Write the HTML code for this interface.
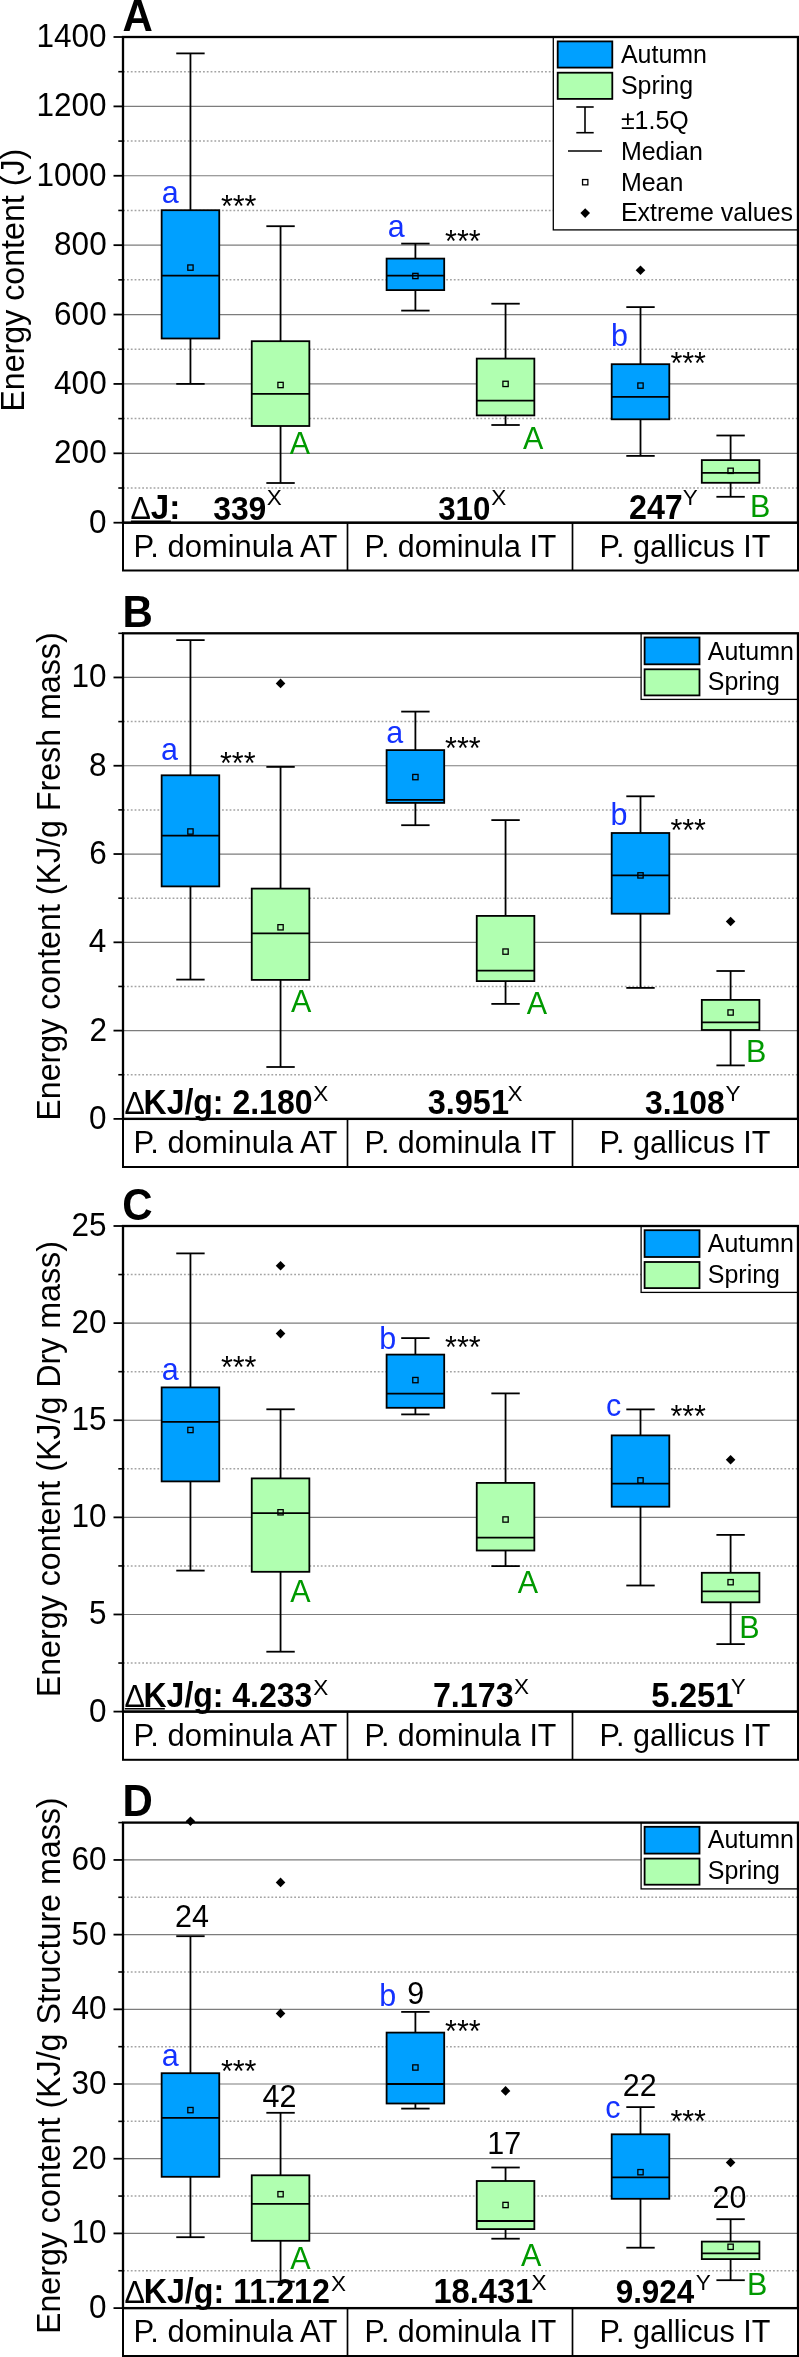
<!DOCTYPE html>
<html><head><meta charset="utf-8"><style>
html,body{margin:0;padding:0;background:#fff;}
svg{display:block;will-change:transform;font-family:"Liberation Sans",sans-serif;}
</style></head><body>
<svg width="799" height="2357" viewBox="0 0 799 2357">
<rect width="799" height="2357" fill="#fff"/>
<line x1="124.00" y1="488.01" x2="797.00" y2="488.01" stroke="#a4a4a4" stroke-width="1.5" stroke-dasharray="1.8 2" stroke-dashoffset="0.8"/>
<line x1="124.00" y1="453.31" x2="797.00" y2="453.31" stroke="#7c7c7c" stroke-width="1.2"/>
<line x1="124.00" y1="418.62" x2="797.00" y2="418.62" stroke="#a4a4a4" stroke-width="1.5" stroke-dasharray="1.8 2" stroke-dashoffset="0.8"/>
<line x1="124.00" y1="383.93" x2="797.00" y2="383.93" stroke="#7c7c7c" stroke-width="1.2"/>
<line x1="124.00" y1="349.24" x2="797.00" y2="349.24" stroke="#a4a4a4" stroke-width="1.5" stroke-dasharray="1.8 2" stroke-dashoffset="0.8"/>
<line x1="124.00" y1="314.54" x2="797.00" y2="314.54" stroke="#7c7c7c" stroke-width="1.2"/>
<line x1="124.00" y1="279.85" x2="797.00" y2="279.85" stroke="#a4a4a4" stroke-width="1.5" stroke-dasharray="1.8 2" stroke-dashoffset="0.8"/>
<line x1="124.00" y1="245.16" x2="797.00" y2="245.16" stroke="#7c7c7c" stroke-width="1.2"/>
<line x1="124.00" y1="210.46" x2="797.00" y2="210.46" stroke="#a4a4a4" stroke-width="1.5" stroke-dasharray="1.8 2" stroke-dashoffset="0.8"/>
<line x1="124.00" y1="175.77" x2="797.00" y2="175.77" stroke="#7c7c7c" stroke-width="1.2"/>
<line x1="124.00" y1="141.08" x2="797.00" y2="141.08" stroke="#a4a4a4" stroke-width="1.5" stroke-dasharray="1.8 2" stroke-dashoffset="0.8"/>
<line x1="124.00" y1="106.39" x2="797.00" y2="106.39" stroke="#7c7c7c" stroke-width="1.2"/>
<line x1="124.00" y1="71.69" x2="797.00" y2="71.69" stroke="#a4a4a4" stroke-width="1.5" stroke-dasharray="1.8 2" stroke-dashoffset="0.8"/>
<line x1="190.45" y1="53.40" x2="190.45" y2="210.20" stroke="#000" stroke-width="1.8"/>
<line x1="190.45" y1="338.50" x2="190.45" y2="383.90" stroke="#000" stroke-width="1.8"/>
<line x1="176.25" y1="53.40" x2="204.65" y2="53.40" stroke="#000" stroke-width="1.8"/>
<line x1="176.25" y1="383.90" x2="204.65" y2="383.90" stroke="#000" stroke-width="1.8"/>
<rect x="161.65" y="210.20" width="57.60" height="128.30" fill="#00a0ff" stroke="#000" stroke-width="1.8"/>
<line x1="161.65" y1="275.70" x2="219.25" y2="275.70" stroke="#000" stroke-width="1.8"/>
<rect x="187.80" y="264.95" width="5.3" height="5.3" fill="none" stroke="#000" stroke-width="1.3"/>
<line x1="280.55" y1="226.20" x2="280.55" y2="341.20" stroke="#000" stroke-width="1.8"/>
<line x1="280.55" y1="426.00" x2="280.55" y2="483.00" stroke="#000" stroke-width="1.8"/>
<line x1="266.35" y1="226.20" x2="294.75" y2="226.20" stroke="#000" stroke-width="1.8"/>
<line x1="266.35" y1="483.00" x2="294.75" y2="483.00" stroke="#000" stroke-width="1.8"/>
<rect x="251.75" y="341.20" width="57.60" height="84.80" fill="#b0ffb0" stroke="#000" stroke-width="1.8"/>
<line x1="251.75" y1="393.80" x2="309.35" y2="393.80" stroke="#000" stroke-width="1.8"/>
<rect x="277.90" y="382.35" width="5.3" height="5.3" fill="none" stroke="#000" stroke-width="1.3"/>
<line x1="415.40" y1="243.60" x2="415.40" y2="258.60" stroke="#000" stroke-width="1.8"/>
<line x1="415.40" y1="290.10" x2="415.40" y2="310.60" stroke="#000" stroke-width="1.8"/>
<line x1="401.20" y1="243.60" x2="429.60" y2="243.60" stroke="#000" stroke-width="1.8"/>
<line x1="401.20" y1="310.60" x2="429.60" y2="310.60" stroke="#000" stroke-width="1.8"/>
<rect x="386.60" y="258.60" width="57.60" height="31.50" fill="#00a0ff" stroke="#000" stroke-width="1.8"/>
<line x1="386.60" y1="275.70" x2="444.20" y2="275.70" stroke="#000" stroke-width="1.8"/>
<rect x="412.75" y="273.35" width="5.3" height="5.3" fill="none" stroke="#000" stroke-width="1.3"/>
<line x1="505.55" y1="303.70" x2="505.55" y2="358.60" stroke="#000" stroke-width="1.8"/>
<line x1="505.55" y1="415.40" x2="505.55" y2="425.00" stroke="#000" stroke-width="1.8"/>
<line x1="491.35" y1="303.70" x2="519.75" y2="303.70" stroke="#000" stroke-width="1.8"/>
<line x1="491.35" y1="425.00" x2="519.75" y2="425.00" stroke="#000" stroke-width="1.8"/>
<rect x="476.75" y="358.60" width="57.60" height="56.80" fill="#b0ffb0" stroke="#000" stroke-width="1.8"/>
<line x1="476.75" y1="400.70" x2="534.35" y2="400.70" stroke="#000" stroke-width="1.8"/>
<rect x="502.90" y="381.25" width="5.3" height="5.3" fill="none" stroke="#000" stroke-width="1.3"/>
<line x1="640.50" y1="307.10" x2="640.50" y2="364.20" stroke="#000" stroke-width="1.8"/>
<line x1="640.50" y1="419.30" x2="640.50" y2="455.90" stroke="#000" stroke-width="1.8"/>
<line x1="626.30" y1="307.10" x2="654.70" y2="307.10" stroke="#000" stroke-width="1.8"/>
<line x1="626.30" y1="455.90" x2="654.70" y2="455.90" stroke="#000" stroke-width="1.8"/>
<rect x="611.70" y="364.20" width="57.60" height="55.10" fill="#00a0ff" stroke="#000" stroke-width="1.8"/>
<line x1="611.70" y1="396.90" x2="669.30" y2="396.90" stroke="#000" stroke-width="1.8"/>
<rect x="637.85" y="382.95" width="5.3" height="5.3" fill="none" stroke="#000" stroke-width="1.3"/>
<path d="M640.50 265.40L645.30 270.20L640.50 275.00L635.70 270.20Z"/>
<line x1="730.60" y1="435.50" x2="730.60" y2="460.10" stroke="#000" stroke-width="1.8"/>
<line x1="730.60" y1="482.80" x2="730.60" y2="496.80" stroke="#000" stroke-width="1.8"/>
<line x1="716.40" y1="435.50" x2="744.80" y2="435.50" stroke="#000" stroke-width="1.8"/>
<line x1="716.40" y1="496.80" x2="744.80" y2="496.80" stroke="#000" stroke-width="1.8"/>
<rect x="701.80" y="460.10" width="57.60" height="22.70" fill="#b0ffb0" stroke="#000" stroke-width="1.8"/>
<line x1="701.80" y1="472.80" x2="759.40" y2="472.80" stroke="#000" stroke-width="1.8"/>
<rect x="727.95" y="468.15" width="5.3" height="5.3" fill="none" stroke="#000" stroke-width="1.3"/>
<line x1="113.50" y1="522.70" x2="123.00" y2="522.70" stroke="#000" stroke-width="1.8"/>
<text transform="translate(89.08,532.70) scale(1,1.03)" font-size="31.5">0</text>
<line x1="118.30" y1="488.01" x2="123.00" y2="488.01" stroke="#000" stroke-width="1.6"/>
<line x1="113.50" y1="453.31" x2="123.00" y2="453.31" stroke="#000" stroke-width="1.8"/>
<text transform="translate(54.11,463.31) scale(1,1.03)" font-size="31.5">200</text>
<line x1="118.30" y1="418.62" x2="123.00" y2="418.62" stroke="#000" stroke-width="1.6"/>
<line x1="113.50" y1="383.93" x2="123.00" y2="383.93" stroke="#000" stroke-width="1.8"/>
<text transform="translate(54.11,393.93) scale(1,1.03)" font-size="31.5">400</text>
<line x1="118.30" y1="349.24" x2="123.00" y2="349.24" stroke="#000" stroke-width="1.6"/>
<line x1="113.50" y1="314.54" x2="123.00" y2="314.54" stroke="#000" stroke-width="1.8"/>
<text transform="translate(54.11,324.54) scale(1,1.03)" font-size="31.5">600</text>
<line x1="118.30" y1="279.85" x2="123.00" y2="279.85" stroke="#000" stroke-width="1.6"/>
<line x1="113.50" y1="245.16" x2="123.00" y2="245.16" stroke="#000" stroke-width="1.8"/>
<text transform="translate(54.11,255.16) scale(1,1.03)" font-size="31.5">800</text>
<line x1="118.30" y1="210.46" x2="123.00" y2="210.46" stroke="#000" stroke-width="1.6"/>
<line x1="113.50" y1="175.77" x2="123.00" y2="175.77" stroke="#000" stroke-width="1.8"/>
<text transform="translate(36.47,185.77) scale(1,1.03)" font-size="31.5">1000</text>
<line x1="118.30" y1="141.08" x2="123.00" y2="141.08" stroke="#000" stroke-width="1.6"/>
<line x1="113.50" y1="106.39" x2="123.00" y2="106.39" stroke="#000" stroke-width="1.8"/>
<text transform="translate(36.47,116.39) scale(1,1.03)" font-size="31.5">1200</text>
<line x1="118.30" y1="71.69" x2="123.00" y2="71.69" stroke="#000" stroke-width="1.6"/>
<line x1="113.50" y1="37.00" x2="123.00" y2="37.00" stroke="#000" stroke-width="1.8"/>
<text transform="translate(36.47,47.00) scale(1,1.03)" font-size="31.5">1400</text>
<rect x="553.3" y="37.0" width="244.70000000000005" height="192.9" fill="#fff" stroke="#000" stroke-width="1.3"/>
<rect x="557.7" y="41.4" width="54.6" height="26.2" fill="#00a0ff" stroke="#000" stroke-width="1.8"/>
<rect x="557.7" y="72.7" width="54.6" height="26.2" fill="#b0ffb0" stroke="#000" stroke-width="1.8"/>
<text transform="translate(620.88,63.00) scale(1,1.01)" font-size="25.0">Autumn</text>
<text transform="translate(620.88,93.50) scale(1,1.01)" font-size="25.0">Spring</text>
<text transform="translate(620.88,129.10) scale(1,1.01)" font-size="25.0">±1.5Q</text>
<text transform="translate(620.88,159.70) scale(1,1.01)" font-size="25.0">Median</text>
<text transform="translate(620.88,190.50) scale(1,1.01)" font-size="25.0">Mean</text>
<text transform="translate(620.88,221.20) scale(1,1.01)" font-size="25.0">Extreme values</text>
<line x1="585.00" y1="107.00" x2="585.00" y2="132.70" stroke="#000" stroke-width="1.6"/>
<line x1="576.30" y1="107.00" x2="593.70" y2="107.00" stroke="#000" stroke-width="1.6"/>
<line x1="576.30" y1="132.70" x2="593.70" y2="132.70" stroke="#000" stroke-width="1.6"/>
<line x1="568.00" y1="151.00" x2="602.00" y2="151.00" stroke="#000" stroke-width="1.6"/>
<rect x="582.55" y="179.55" width="5.3" height="5.3" fill="none" stroke="#000" stroke-width="1.3"/>
<path d="M585.20 208.30L590.00 213.10L585.20 217.90L580.40 213.10Z"/>
<rect x="123.00" y="37.00" width="675.00" height="485.70" fill="none" stroke="#000" stroke-width="2.3"/>
<rect x="123.00" y="522.70" width="675.00" height="47.80" fill="none" stroke="#000" stroke-width="2"/>
<line x1="347.50" y1="522.70" x2="347.50" y2="570.50" stroke="#000" stroke-width="1.7"/>
<line x1="572.50" y1="522.70" x2="572.50" y2="570.50" stroke="#000" stroke-width="1.7"/>
<text transform="translate(133.62,556.70) scale(1,1.01)" font-size="30.99">P. dominula AT</text>
<text transform="translate(364.57,556.70) scale(1,1.01)" font-size="30.37">P. dominula IT</text>
<text transform="translate(599.56,556.70) scale(1,1.01)" font-size="30.56">P. gallicus IT</text>
<text transform="translate(24.20,411.71) rotate(-90) scale(1,1.05)" font-size="32.2">Energy content (J)</text>
<text transform="translate(122.58,31.00) scale(1,1.06)" font-size="42.0" font-weight="bold">A</text>
<text transform="translate(161.63,202.70) scale(1,1.02)" font-size="30.5" fill="#1432ff">a</text>
<text transform="translate(220.89,217.47) scale(1,1.02)" font-size="30.5">***</text>
<text transform="translate(289.85,453.60) scale(1,1.02)" font-size="30.5" fill="#009900">A</text>
<text transform="translate(387.63,236.70) scale(1,1.02)" font-size="30.5" fill="#1432ff">a</text>
<text transform="translate(445.09,252.17) scale(1,1.02)" font-size="30.5">***</text>
<text transform="translate(523.05,449.00) scale(1,1.02)" font-size="30.5" fill="#009900">A</text>
<text transform="translate(611.12,345.80) scale(1,1.02)" font-size="30.5" fill="#1432ff">b</text>
<text transform="translate(670.39,373.97) scale(1,1.02)" font-size="30.5">***</text>
<text transform="translate(749.96,516.80) scale(1,1.02)" font-size="30.5" fill="#009900">B</text>
<text transform="translate(130.49,519.30) scale(1,1.02)" font-size="30.5">Δ</text>
<text transform="translate(150.70,519.30) scale(1,1.07)" font-size="33.16" font-weight="bold">J:</text>
<line x1="130.90" y1="521.20" x2="170.90" y2="521.20" stroke="#000" stroke-width="1.6"/>
<text transform="translate(213.20,519.50) scale(1,1.07)" font-size="31.84" font-weight="bold">339</text>
<text transform="translate(266.64,505.32)" font-size="22.5">X</text>
<text transform="translate(438.22,519.50) scale(1,1.07)" font-size="31.25" font-weight="bold">310</text>
<text transform="translate(491.14,505.32)" font-size="22.5">X</text>
<text transform="translate(628.97,519.40) scale(1,1.07)" font-size="32.24" font-weight="bold">247</text>
<text transform="translate(682.74,505.32)" font-size="22.5">Y</text>
<line x1="124.00" y1="1074.75" x2="797.00" y2="1074.75" stroke="#a4a4a4" stroke-width="1.5" stroke-dasharray="1.8 2" stroke-dashoffset="0.8"/>
<line x1="124.00" y1="1030.61" x2="797.00" y2="1030.61" stroke="#7c7c7c" stroke-width="1.2"/>
<line x1="124.00" y1="986.46" x2="797.00" y2="986.46" stroke="#a4a4a4" stroke-width="1.5" stroke-dasharray="1.8 2" stroke-dashoffset="0.8"/>
<line x1="124.00" y1="942.32" x2="797.00" y2="942.32" stroke="#7c7c7c" stroke-width="1.2"/>
<line x1="124.00" y1="898.17" x2="797.00" y2="898.17" stroke="#a4a4a4" stroke-width="1.5" stroke-dasharray="1.8 2" stroke-dashoffset="0.8"/>
<line x1="124.00" y1="854.03" x2="797.00" y2="854.03" stroke="#7c7c7c" stroke-width="1.2"/>
<line x1="124.00" y1="809.88" x2="797.00" y2="809.88" stroke="#a4a4a4" stroke-width="1.5" stroke-dasharray="1.8 2" stroke-dashoffset="0.8"/>
<line x1="124.00" y1="765.74" x2="797.00" y2="765.74" stroke="#7c7c7c" stroke-width="1.2"/>
<line x1="124.00" y1="721.59" x2="797.00" y2="721.59" stroke="#a4a4a4" stroke-width="1.5" stroke-dasharray="1.8 2" stroke-dashoffset="0.8"/>
<line x1="124.00" y1="677.45" x2="797.00" y2="677.45" stroke="#7c7c7c" stroke-width="1.2"/>
<line x1="190.45" y1="640.10" x2="190.45" y2="775.30" stroke="#000" stroke-width="1.8"/>
<line x1="190.45" y1="886.40" x2="190.45" y2="979.60" stroke="#000" stroke-width="1.8"/>
<line x1="176.25" y1="640.10" x2="204.65" y2="640.10" stroke="#000" stroke-width="1.8"/>
<line x1="176.25" y1="979.60" x2="204.65" y2="979.60" stroke="#000" stroke-width="1.8"/>
<rect x="161.65" y="775.30" width="57.60" height="111.10" fill="#00a0ff" stroke="#000" stroke-width="1.8"/>
<line x1="161.65" y1="835.70" x2="219.25" y2="835.70" stroke="#000" stroke-width="1.8"/>
<rect x="187.80" y="828.85" width="5.3" height="5.3" fill="none" stroke="#000" stroke-width="1.3"/>
<line x1="280.55" y1="766.90" x2="280.55" y2="888.60" stroke="#000" stroke-width="1.8"/>
<line x1="280.55" y1="979.90" x2="280.55" y2="1067.00" stroke="#000" stroke-width="1.8"/>
<line x1="266.35" y1="766.90" x2="294.75" y2="766.90" stroke="#000" stroke-width="1.8"/>
<line x1="266.35" y1="1067.00" x2="294.75" y2="1067.00" stroke="#000" stroke-width="1.8"/>
<rect x="251.75" y="888.60" width="57.60" height="91.30" fill="#b0ffb0" stroke="#000" stroke-width="1.8"/>
<line x1="251.75" y1="933.30" x2="309.35" y2="933.30" stroke="#000" stroke-width="1.8"/>
<rect x="277.90" y="924.65" width="5.3" height="5.3" fill="none" stroke="#000" stroke-width="1.3"/>
<path d="M280.55 678.60L285.35 683.40L280.55 688.20L275.75 683.40Z"/>
<line x1="415.40" y1="711.60" x2="415.40" y2="750.10" stroke="#000" stroke-width="1.8"/>
<line x1="415.40" y1="802.90" x2="415.40" y2="825.20" stroke="#000" stroke-width="1.8"/>
<line x1="401.20" y1="711.60" x2="429.60" y2="711.60" stroke="#000" stroke-width="1.8"/>
<line x1="401.20" y1="825.20" x2="429.60" y2="825.20" stroke="#000" stroke-width="1.8"/>
<rect x="386.60" y="750.10" width="57.60" height="52.80" fill="#00a0ff" stroke="#000" stroke-width="1.8"/>
<line x1="386.60" y1="799.90" x2="444.20" y2="799.90" stroke="#000" stroke-width="1.8"/>
<rect x="412.75" y="774.45" width="5.3" height="5.3" fill="none" stroke="#000" stroke-width="1.3"/>
<line x1="505.55" y1="820.10" x2="505.55" y2="915.90" stroke="#000" stroke-width="1.8"/>
<line x1="505.55" y1="981.10" x2="505.55" y2="1003.90" stroke="#000" stroke-width="1.8"/>
<line x1="491.35" y1="820.10" x2="519.75" y2="820.10" stroke="#000" stroke-width="1.8"/>
<line x1="491.35" y1="1003.90" x2="519.75" y2="1003.90" stroke="#000" stroke-width="1.8"/>
<rect x="476.75" y="915.90" width="57.60" height="65.20" fill="#b0ffb0" stroke="#000" stroke-width="1.8"/>
<line x1="476.75" y1="970.60" x2="534.35" y2="970.60" stroke="#000" stroke-width="1.8"/>
<rect x="502.90" y="948.95" width="5.3" height="5.3" fill="none" stroke="#000" stroke-width="1.3"/>
<line x1="640.50" y1="796.30" x2="640.50" y2="833.00" stroke="#000" stroke-width="1.8"/>
<line x1="640.50" y1="913.70" x2="640.50" y2="987.90" stroke="#000" stroke-width="1.8"/>
<line x1="626.30" y1="796.30" x2="654.70" y2="796.30" stroke="#000" stroke-width="1.8"/>
<line x1="626.30" y1="987.90" x2="654.70" y2="987.90" stroke="#000" stroke-width="1.8"/>
<rect x="611.70" y="833.00" width="57.60" height="80.70" fill="#00a0ff" stroke="#000" stroke-width="1.8"/>
<line x1="611.70" y1="875.40" x2="669.30" y2="875.40" stroke="#000" stroke-width="1.8"/>
<rect x="637.85" y="872.75" width="5.3" height="5.3" fill="none" stroke="#000" stroke-width="1.3"/>
<line x1="730.60" y1="971.00" x2="730.60" y2="999.90" stroke="#000" stroke-width="1.8"/>
<line x1="730.60" y1="1030.00" x2="730.60" y2="1065.40" stroke="#000" stroke-width="1.8"/>
<line x1="716.40" y1="971.00" x2="744.80" y2="971.00" stroke="#000" stroke-width="1.8"/>
<line x1="716.40" y1="1065.40" x2="744.80" y2="1065.40" stroke="#000" stroke-width="1.8"/>
<rect x="701.80" y="999.90" width="57.60" height="30.10" fill="#b0ffb0" stroke="#000" stroke-width="1.8"/>
<line x1="701.80" y1="1022.30" x2="759.40" y2="1022.30" stroke="#000" stroke-width="1.8"/>
<rect x="727.95" y="1009.85" width="5.3" height="5.3" fill="none" stroke="#000" stroke-width="1.3"/>
<path d="M730.60 916.70L735.40 921.50L730.60 926.30L725.80 921.50Z"/>
<line x1="113.50" y1="1118.90" x2="123.00" y2="1118.90" stroke="#000" stroke-width="1.8"/>
<text transform="translate(89.08,1128.90) scale(1,1.03)" font-size="31.5">0</text>
<line x1="118.30" y1="1074.75" x2="123.00" y2="1074.75" stroke="#000" stroke-width="1.6"/>
<line x1="113.50" y1="1030.61" x2="123.00" y2="1030.61" stroke="#000" stroke-width="1.8"/>
<text transform="translate(89.39,1040.61) scale(1,1.03)" font-size="31.5">2</text>
<line x1="118.30" y1="986.46" x2="123.00" y2="986.46" stroke="#000" stroke-width="1.6"/>
<line x1="113.50" y1="942.32" x2="123.00" y2="942.32" stroke="#000" stroke-width="1.8"/>
<text transform="translate(88.76,952.32) scale(1,1.03)" font-size="31.5">4</text>
<line x1="118.30" y1="898.17" x2="123.00" y2="898.17" stroke="#000" stroke-width="1.6"/>
<line x1="113.50" y1="854.03" x2="123.00" y2="854.03" stroke="#000" stroke-width="1.8"/>
<text transform="translate(89.23,864.03) scale(1,1.03)" font-size="31.5">6</text>
<line x1="118.30" y1="809.88" x2="123.00" y2="809.88" stroke="#000" stroke-width="1.6"/>
<line x1="113.50" y1="765.74" x2="123.00" y2="765.74" stroke="#000" stroke-width="1.8"/>
<text transform="translate(89.08,775.74) scale(1,1.03)" font-size="31.5">8</text>
<line x1="118.30" y1="721.59" x2="123.00" y2="721.59" stroke="#000" stroke-width="1.6"/>
<line x1="113.50" y1="677.45" x2="123.00" y2="677.45" stroke="#000" stroke-width="1.8"/>
<text transform="translate(71.59,687.45) scale(1,1.03)" font-size="31.5">10</text>
<line x1="118.30" y1="633.30" x2="123.00" y2="633.30" stroke="#000" stroke-width="1.6"/>
<rect x="641.1" y="633.3" width="156.89999999999998" height="66.10000000000002" fill="#fff" stroke="#000" stroke-width="1.3"/>
<rect x="644.6" y="637.50" width="54.9" height="26.80" fill="#00a0ff" stroke="#000" stroke-width="1.8"/>
<rect x="644.6" y="669.30" width="54.9" height="26.10" fill="#b0ffb0" stroke="#000" stroke-width="1.8"/>
<text transform="translate(707.77,659.50) scale(1,1.01)" font-size="25.0">Autumn</text>
<text transform="translate(707.77,689.70) scale(1,1.01)" font-size="25.0">Spring</text>
<rect x="123.00" y="633.30" width="675.00" height="485.60" fill="none" stroke="#000" stroke-width="2.3"/>
<rect x="123.00" y="1118.90" width="675.00" height="48.10" fill="none" stroke="#000" stroke-width="2"/>
<line x1="347.50" y1="1118.90" x2="347.50" y2="1167.00" stroke="#000" stroke-width="1.7"/>
<line x1="572.50" y1="1118.90" x2="572.50" y2="1167.00" stroke="#000" stroke-width="1.7"/>
<text transform="translate(133.62,1152.90) scale(1,1.01)" font-size="30.99">P. dominula AT</text>
<text transform="translate(364.57,1152.90) scale(1,1.01)" font-size="30.37">P. dominula IT</text>
<text transform="translate(599.56,1152.90) scale(1,1.01)" font-size="30.56">P. gallicus IT</text>
<text transform="translate(59.80,1120.66) rotate(-90) scale(1,1.05)" font-size="32.2">Energy content (KJ/g Fresh mass)</text>
<text transform="translate(122.61,626.80) scale(1,1.06)" font-size="42.0" font-weight="bold">B</text>
<text transform="translate(161.03,759.70) scale(1,1.02)" font-size="30.5" fill="#1432ff">a</text>
<text transform="translate(219.99,773.67) scale(1,1.02)" font-size="30.5">***</text>
<text transform="translate(291.05,1012.00) scale(1,1.02)" font-size="30.5" fill="#009900">A</text>
<text transform="translate(386.13,743.20) scale(1,1.02)" font-size="30.5" fill="#1432ff">a</text>
<text transform="translate(445.09,758.67) scale(1,1.02)" font-size="30.5">***</text>
<text transform="translate(526.65,1014.10) scale(1,1.02)" font-size="30.5" fill="#009900">A</text>
<text transform="translate(610.52,824.60) scale(1,1.02)" font-size="30.5" fill="#1432ff">b</text>
<text transform="translate(670.39,840.87) scale(1,1.02)" font-size="30.5">***</text>
<text transform="translate(745.96,1061.50) scale(1,1.02)" font-size="30.5" fill="#009900">B</text>
<text transform="translate(124.38,1113.80) scale(1,1.02)" font-size="30.5">Δ</text>
<text transform="translate(143.52,1113.80) scale(1,1.07)" font-size="32.02" font-weight="bold">KJ/g: 2.180</text>
<text transform="translate(313.24,1101.12)" font-size="22.5">X</text>
<text transform="translate(427.69,1113.80) scale(1,1.07)" font-size="32.51" font-weight="bold">3.951</text>
<text transform="translate(507.54,1101.33)" font-size="22.5">X</text>
<text transform="translate(645.00,1113.80) scale(1,1.07)" font-size="31.86" font-weight="bold">3.108</text>
<text transform="translate(725.44,1101.33)" font-size="22.5">Y</text>
<line x1="124.00" y1="1663.04" x2="797.00" y2="1663.04" stroke="#a4a4a4" stroke-width="1.5" stroke-dasharray="1.8 2" stroke-dashoffset="0.8"/>
<line x1="124.00" y1="1614.48" x2="797.00" y2="1614.48" stroke="#7c7c7c" stroke-width="1.2"/>
<line x1="124.00" y1="1565.92" x2="797.00" y2="1565.92" stroke="#a4a4a4" stroke-width="1.5" stroke-dasharray="1.8 2" stroke-dashoffset="0.8"/>
<line x1="124.00" y1="1517.36" x2="797.00" y2="1517.36" stroke="#7c7c7c" stroke-width="1.2"/>
<line x1="124.00" y1="1468.80" x2="797.00" y2="1468.80" stroke="#a4a4a4" stroke-width="1.5" stroke-dasharray="1.8 2" stroke-dashoffset="0.8"/>
<line x1="124.00" y1="1420.24" x2="797.00" y2="1420.24" stroke="#7c7c7c" stroke-width="1.2"/>
<line x1="124.00" y1="1371.68" x2="797.00" y2="1371.68" stroke="#a4a4a4" stroke-width="1.5" stroke-dasharray="1.8 2" stroke-dashoffset="0.8"/>
<line x1="124.00" y1="1323.12" x2="797.00" y2="1323.12" stroke="#7c7c7c" stroke-width="1.2"/>
<line x1="124.00" y1="1274.56" x2="797.00" y2="1274.56" stroke="#a4a4a4" stroke-width="1.5" stroke-dasharray="1.8 2" stroke-dashoffset="0.8"/>
<line x1="190.45" y1="1253.40" x2="190.45" y2="1387.40" stroke="#000" stroke-width="1.8"/>
<line x1="190.45" y1="1481.40" x2="190.45" y2="1570.60" stroke="#000" stroke-width="1.8"/>
<line x1="176.25" y1="1253.40" x2="204.65" y2="1253.40" stroke="#000" stroke-width="1.8"/>
<line x1="176.25" y1="1570.60" x2="204.65" y2="1570.60" stroke="#000" stroke-width="1.8"/>
<rect x="161.65" y="1387.40" width="57.60" height="94.00" fill="#00a0ff" stroke="#000" stroke-width="1.8"/>
<line x1="161.65" y1="1421.90" x2="219.25" y2="1421.90" stroke="#000" stroke-width="1.8"/>
<rect x="187.80" y="1427.35" width="5.3" height="5.3" fill="none" stroke="#000" stroke-width="1.3"/>
<line x1="280.55" y1="1409.30" x2="280.55" y2="1478.40" stroke="#000" stroke-width="1.8"/>
<line x1="280.55" y1="1571.80" x2="280.55" y2="1651.70" stroke="#000" stroke-width="1.8"/>
<line x1="266.35" y1="1409.30" x2="294.75" y2="1409.30" stroke="#000" stroke-width="1.8"/>
<line x1="266.35" y1="1651.70" x2="294.75" y2="1651.70" stroke="#000" stroke-width="1.8"/>
<rect x="251.75" y="1478.40" width="57.60" height="93.40" fill="#b0ffb0" stroke="#000" stroke-width="1.8"/>
<line x1="251.75" y1="1513.20" x2="309.35" y2="1513.20" stroke="#000" stroke-width="1.8"/>
<rect x="277.90" y="1509.65" width="5.3" height="5.3" fill="none" stroke="#000" stroke-width="1.3"/>
<path d="M280.55 1260.90L285.35 1265.70L280.55 1270.50L275.75 1265.70Z"/>
<path d="M280.55 1328.80L285.35 1333.60L280.55 1338.40L275.75 1333.60Z"/>
<line x1="415.40" y1="1338.10" x2="415.40" y2="1354.60" stroke="#000" stroke-width="1.8"/>
<line x1="415.40" y1="1407.80" x2="415.40" y2="1414.40" stroke="#000" stroke-width="1.8"/>
<line x1="401.20" y1="1338.10" x2="429.60" y2="1338.10" stroke="#000" stroke-width="1.8"/>
<line x1="401.20" y1="1414.40" x2="429.60" y2="1414.40" stroke="#000" stroke-width="1.8"/>
<rect x="386.60" y="1354.60" width="57.60" height="53.20" fill="#00a0ff" stroke="#000" stroke-width="1.8"/>
<line x1="386.60" y1="1393.70" x2="444.20" y2="1393.70" stroke="#000" stroke-width="1.8"/>
<rect x="412.75" y="1377.45" width="5.3" height="5.3" fill="none" stroke="#000" stroke-width="1.3"/>
<line x1="505.55" y1="1393.40" x2="505.55" y2="1482.90" stroke="#000" stroke-width="1.8"/>
<line x1="505.55" y1="1550.50" x2="505.55" y2="1566.10" stroke="#000" stroke-width="1.8"/>
<line x1="491.35" y1="1393.40" x2="519.75" y2="1393.40" stroke="#000" stroke-width="1.8"/>
<line x1="491.35" y1="1566.10" x2="519.75" y2="1566.10" stroke="#000" stroke-width="1.8"/>
<rect x="476.75" y="1482.90" width="57.60" height="67.60" fill="#b0ffb0" stroke="#000" stroke-width="1.8"/>
<line x1="476.75" y1="1537.60" x2="534.35" y2="1537.60" stroke="#000" stroke-width="1.8"/>
<rect x="502.90" y="1516.85" width="5.3" height="5.3" fill="none" stroke="#000" stroke-width="1.3"/>
<line x1="640.50" y1="1409.40" x2="640.50" y2="1435.40" stroke="#000" stroke-width="1.8"/>
<line x1="640.50" y1="1506.70" x2="640.50" y2="1585.50" stroke="#000" stroke-width="1.8"/>
<line x1="626.30" y1="1409.40" x2="654.70" y2="1409.40" stroke="#000" stroke-width="1.8"/>
<line x1="626.30" y1="1585.50" x2="654.70" y2="1585.50" stroke="#000" stroke-width="1.8"/>
<rect x="611.70" y="1435.40" width="57.60" height="71.30" fill="#00a0ff" stroke="#000" stroke-width="1.8"/>
<line x1="611.70" y1="1483.70" x2="669.30" y2="1483.70" stroke="#000" stroke-width="1.8"/>
<rect x="637.85" y="1477.75" width="5.3" height="5.3" fill="none" stroke="#000" stroke-width="1.3"/>
<line x1="730.60" y1="1534.90" x2="730.60" y2="1572.80" stroke="#000" stroke-width="1.8"/>
<line x1="730.60" y1="1602.30" x2="730.60" y2="1644.10" stroke="#000" stroke-width="1.8"/>
<line x1="716.40" y1="1534.90" x2="744.80" y2="1534.90" stroke="#000" stroke-width="1.8"/>
<line x1="716.40" y1="1644.10" x2="744.80" y2="1644.10" stroke="#000" stroke-width="1.8"/>
<rect x="701.80" y="1572.80" width="57.60" height="29.50" fill="#b0ffb0" stroke="#000" stroke-width="1.8"/>
<line x1="701.80" y1="1591.30" x2="759.40" y2="1591.30" stroke="#000" stroke-width="1.8"/>
<rect x="727.95" y="1579.55" width="5.3" height="5.3" fill="none" stroke="#000" stroke-width="1.3"/>
<path d="M730.60 1454.90L735.40 1459.70L730.60 1464.50L725.80 1459.70Z"/>
<line x1="113.50" y1="1711.60" x2="123.00" y2="1711.60" stroke="#000" stroke-width="1.8"/>
<text transform="translate(89.08,1721.60) scale(1,1.03)" font-size="31.5">0</text>
<line x1="118.30" y1="1663.04" x2="123.00" y2="1663.04" stroke="#000" stroke-width="1.6"/>
<line x1="113.50" y1="1614.48" x2="123.00" y2="1614.48" stroke="#000" stroke-width="1.8"/>
<text transform="translate(89.08,1624.48) scale(1,1.03)" font-size="31.5">5</text>
<line x1="118.30" y1="1565.92" x2="123.00" y2="1565.92" stroke="#000" stroke-width="1.6"/>
<line x1="113.50" y1="1517.36" x2="123.00" y2="1517.36" stroke="#000" stroke-width="1.8"/>
<text transform="translate(71.59,1527.36) scale(1,1.03)" font-size="31.5">10</text>
<line x1="118.30" y1="1468.80" x2="123.00" y2="1468.80" stroke="#000" stroke-width="1.6"/>
<line x1="113.50" y1="1420.24" x2="123.00" y2="1420.24" stroke="#000" stroke-width="1.8"/>
<text transform="translate(71.59,1430.24) scale(1,1.03)" font-size="31.5">15</text>
<line x1="118.30" y1="1371.68" x2="123.00" y2="1371.68" stroke="#000" stroke-width="1.6"/>
<line x1="113.50" y1="1323.12" x2="123.00" y2="1323.12" stroke="#000" stroke-width="1.8"/>
<text transform="translate(71.59,1333.12) scale(1,1.03)" font-size="31.5">20</text>
<line x1="118.30" y1="1274.56" x2="123.00" y2="1274.56" stroke="#000" stroke-width="1.6"/>
<line x1="113.50" y1="1226.00" x2="123.00" y2="1226.00" stroke="#000" stroke-width="1.8"/>
<text transform="translate(71.59,1236.00) scale(1,1.03)" font-size="31.5">25</text>
<rect x="641.1" y="1226.0" width="156.89999999999998" height="66.40000000000009" fill="#fff" stroke="#000" stroke-width="1.3"/>
<rect x="644.6" y="1230.20" width="54.9" height="26.80" fill="#00a0ff" stroke="#000" stroke-width="1.8"/>
<rect x="644.6" y="1262.00" width="54.9" height="26.10" fill="#b0ffb0" stroke="#000" stroke-width="1.8"/>
<text transform="translate(707.77,1252.20) scale(1,1.01)" font-size="25.0">Autumn</text>
<text transform="translate(707.77,1283.00) scale(1,1.01)" font-size="25.0">Spring</text>
<rect x="123.00" y="1226.00" width="675.00" height="485.60" fill="none" stroke="#000" stroke-width="2.3"/>
<rect x="123.00" y="1711.60" width="675.00" height="48.20" fill="none" stroke="#000" stroke-width="2"/>
<line x1="347.50" y1="1711.60" x2="347.50" y2="1759.80" stroke="#000" stroke-width="1.7"/>
<line x1="572.50" y1="1711.60" x2="572.50" y2="1759.80" stroke="#000" stroke-width="1.7"/>
<text transform="translate(133.62,1745.60) scale(1,1.01)" font-size="30.99">P. dominula AT</text>
<text transform="translate(364.57,1745.60) scale(1,1.01)" font-size="30.37">P. dominula IT</text>
<text transform="translate(599.56,1745.60) scale(1,1.01)" font-size="30.56">P. gallicus IT</text>
<text transform="translate(59.60,1697.26) rotate(-90) scale(1,1.05)" font-size="32.2">Energy content (KJ/g Dry mass)</text>
<text transform="translate(122.16,1220.10) scale(1,1.06)" font-size="42.0" font-weight="bold">C</text>
<text transform="translate(161.63,1379.80) scale(1,1.02)" font-size="30.5" fill="#1432ff">a</text>
<text transform="translate(220.89,1377.57) scale(1,1.02)" font-size="30.5">***</text>
<text transform="translate(290.15,1602.40) scale(1,1.02)" font-size="30.5" fill="#009900">A</text>
<text transform="translate(379.32,1348.60) scale(1,1.02)" font-size="30.5" fill="#1432ff">b</text>
<text transform="translate(445.09,1358.07) scale(1,1.02)" font-size="30.5">***</text>
<text transform="translate(517.65,1593.40) scale(1,1.02)" font-size="30.5" fill="#009900">A</text>
<text transform="translate(606.03,1416.30) scale(1,1.02)" font-size="30.5" fill="#1432ff">c</text>
<text transform="translate(670.39,1427.07) scale(1,1.02)" font-size="30.5">***</text>
<text transform="translate(739.16,1638.30) scale(1,1.02)" font-size="30.5" fill="#009900">B</text>
<text transform="translate(124.38,1706.80) scale(1,1.02)" font-size="30.5">Δ</text>
<text transform="translate(143.52,1706.80) scale(1,1.07)" font-size="31.99" font-weight="bold">KJ/g: 4.233</text>
<line x1="124.80" y1="1708.80" x2="164.80" y2="1708.80" stroke="#000" stroke-width="1.6"/>
<text transform="translate(313.24,1694.53)" font-size="22.5">X</text>
<text transform="translate(432.95,1706.80) scale(1,1.07)" font-size="32.23" font-weight="bold">7.173</text>
<text transform="translate(513.94,1694.33)" font-size="22.5">X</text>
<text transform="translate(651.21,1706.80) scale(1,1.07)" font-size="32.89" font-weight="bold">5.251</text>
<text transform="translate(730.64,1694.33)" font-size="22.5">Y</text>
<line x1="124.00" y1="2270.75" x2="797.00" y2="2270.75" stroke="#a4a4a4" stroke-width="1.5" stroke-dasharray="1.8 2" stroke-dashoffset="0.8"/>
<line x1="124.00" y1="2233.41" x2="797.00" y2="2233.41" stroke="#7c7c7c" stroke-width="1.2"/>
<line x1="124.00" y1="2196.06" x2="797.00" y2="2196.06" stroke="#a4a4a4" stroke-width="1.5" stroke-dasharray="1.8 2" stroke-dashoffset="0.8"/>
<line x1="124.00" y1="2158.72" x2="797.00" y2="2158.72" stroke="#7c7c7c" stroke-width="1.2"/>
<line x1="124.00" y1="2121.37" x2="797.00" y2="2121.37" stroke="#a4a4a4" stroke-width="1.5" stroke-dasharray="1.8 2" stroke-dashoffset="0.8"/>
<line x1="124.00" y1="2084.02" x2="797.00" y2="2084.02" stroke="#7c7c7c" stroke-width="1.2"/>
<line x1="124.00" y1="2046.68" x2="797.00" y2="2046.68" stroke="#a4a4a4" stroke-width="1.5" stroke-dasharray="1.8 2" stroke-dashoffset="0.8"/>
<line x1="124.00" y1="2009.33" x2="797.00" y2="2009.33" stroke="#7c7c7c" stroke-width="1.2"/>
<line x1="124.00" y1="1971.98" x2="797.00" y2="1971.98" stroke="#a4a4a4" stroke-width="1.5" stroke-dasharray="1.8 2" stroke-dashoffset="0.8"/>
<line x1="124.00" y1="1934.64" x2="797.00" y2="1934.64" stroke="#7c7c7c" stroke-width="1.2"/>
<line x1="124.00" y1="1897.29" x2="797.00" y2="1897.29" stroke="#a4a4a4" stroke-width="1.5" stroke-dasharray="1.8 2" stroke-dashoffset="0.8"/>
<line x1="124.00" y1="1859.95" x2="797.00" y2="1859.95" stroke="#7c7c7c" stroke-width="1.2"/>
<line x1="190.45" y1="1936.20" x2="190.45" y2="2073.20" stroke="#000" stroke-width="1.8"/>
<line x1="190.45" y1="2176.80" x2="190.45" y2="2237.20" stroke="#000" stroke-width="1.8"/>
<line x1="176.25" y1="1936.20" x2="204.65" y2="1936.20" stroke="#000" stroke-width="1.8"/>
<line x1="176.25" y1="2237.20" x2="204.65" y2="2237.20" stroke="#000" stroke-width="1.8"/>
<rect x="161.65" y="2073.20" width="57.60" height="103.60" fill="#00a0ff" stroke="#000" stroke-width="1.8"/>
<line x1="161.65" y1="2117.90" x2="219.25" y2="2117.90" stroke="#000" stroke-width="1.8"/>
<rect x="187.80" y="2107.45" width="5.3" height="5.3" fill="none" stroke="#000" stroke-width="1.3"/>
<path d="M190.45 1816.40L195.25 1821.20L190.45 1826.00L185.65 1821.20Z"/>
<line x1="280.55" y1="2112.80" x2="280.55" y2="2175.30" stroke="#000" stroke-width="1.8"/>
<line x1="280.55" y1="2240.80" x2="280.55" y2="2281.70" stroke="#000" stroke-width="1.8"/>
<line x1="266.35" y1="2112.80" x2="294.75" y2="2112.80" stroke="#000" stroke-width="1.8"/>
<line x1="266.35" y1="2281.70" x2="294.75" y2="2281.70" stroke="#000" stroke-width="1.8"/>
<rect x="251.75" y="2175.30" width="57.60" height="65.50" fill="#b0ffb0" stroke="#000" stroke-width="1.8"/>
<line x1="251.75" y1="2203.90" x2="309.35" y2="2203.90" stroke="#000" stroke-width="1.8"/>
<rect x="277.90" y="2191.55" width="5.3" height="5.3" fill="none" stroke="#000" stroke-width="1.3"/>
<path d="M280.55 1877.60L285.35 1882.40L280.55 1887.20L275.75 1882.40Z"/>
<path d="M280.55 2008.60L285.35 2013.40L280.55 2018.20L275.75 2013.40Z"/>
<line x1="415.40" y1="2011.90" x2="415.40" y2="2032.60" stroke="#000" stroke-width="1.8"/>
<line x1="415.40" y1="2103.50" x2="415.40" y2="2108.60" stroke="#000" stroke-width="1.8"/>
<line x1="401.20" y1="2011.90" x2="429.60" y2="2011.90" stroke="#000" stroke-width="1.8"/>
<line x1="401.20" y1="2108.60" x2="429.60" y2="2108.60" stroke="#000" stroke-width="1.8"/>
<rect x="386.60" y="2032.60" width="57.60" height="70.90" fill="#00a0ff" stroke="#000" stroke-width="1.8"/>
<line x1="386.60" y1="2084.00" x2="444.20" y2="2084.00" stroke="#000" stroke-width="1.8"/>
<rect x="412.75" y="2064.85" width="5.3" height="5.3" fill="none" stroke="#000" stroke-width="1.3"/>
<line x1="505.55" y1="2167.50" x2="505.55" y2="2181.00" stroke="#000" stroke-width="1.8"/>
<line x1="505.55" y1="2229.10" x2="505.55" y2="2238.70" stroke="#000" stroke-width="1.8"/>
<line x1="491.35" y1="2167.50" x2="519.75" y2="2167.50" stroke="#000" stroke-width="1.8"/>
<line x1="491.35" y1="2238.70" x2="519.75" y2="2238.70" stroke="#000" stroke-width="1.8"/>
<rect x="476.75" y="2181.00" width="57.60" height="48.10" fill="#b0ffb0" stroke="#000" stroke-width="1.8"/>
<line x1="476.75" y1="2221.00" x2="534.35" y2="2221.00" stroke="#000" stroke-width="1.8"/>
<rect x="502.90" y="2202.35" width="5.3" height="5.3" fill="none" stroke="#000" stroke-width="1.3"/>
<path d="M505.55 2086.10L510.35 2090.90L505.55 2095.70L500.75 2090.90Z"/>
<line x1="640.50" y1="2107.10" x2="640.50" y2="2134.30" stroke="#000" stroke-width="1.8"/>
<line x1="640.50" y1="2198.80" x2="640.50" y2="2247.70" stroke="#000" stroke-width="1.8"/>
<line x1="626.30" y1="2107.10" x2="654.70" y2="2107.10" stroke="#000" stroke-width="1.8"/>
<line x1="626.30" y1="2247.70" x2="654.70" y2="2247.70" stroke="#000" stroke-width="1.8"/>
<rect x="611.70" y="2134.30" width="57.60" height="64.50" fill="#00a0ff" stroke="#000" stroke-width="1.8"/>
<line x1="611.70" y1="2177.40" x2="669.30" y2="2177.40" stroke="#000" stroke-width="1.8"/>
<rect x="637.85" y="2169.55" width="5.3" height="5.3" fill="none" stroke="#000" stroke-width="1.3"/>
<line x1="730.60" y1="2219.20" x2="730.60" y2="2241.60" stroke="#000" stroke-width="1.8"/>
<line x1="730.60" y1="2259.10" x2="730.60" y2="2280.20" stroke="#000" stroke-width="1.8"/>
<line x1="716.40" y1="2219.20" x2="744.80" y2="2219.20" stroke="#000" stroke-width="1.8"/>
<line x1="716.40" y1="2280.20" x2="744.80" y2="2280.20" stroke="#000" stroke-width="1.8"/>
<rect x="701.80" y="2241.60" width="57.60" height="17.50" fill="#b0ffb0" stroke="#000" stroke-width="1.8"/>
<line x1="701.80" y1="2253.30" x2="759.40" y2="2253.30" stroke="#000" stroke-width="1.8"/>
<rect x="727.95" y="2244.15" width="5.3" height="5.3" fill="none" stroke="#000" stroke-width="1.3"/>
<path d="M730.60 2157.70L735.40 2162.50L730.60 2167.30L725.80 2162.50Z"/>
<line x1="113.50" y1="2308.10" x2="123.00" y2="2308.10" stroke="#000" stroke-width="1.8"/>
<text transform="translate(89.08,2318.10) scale(1,1.03)" font-size="31.5">0</text>
<line x1="118.30" y1="2270.75" x2="123.00" y2="2270.75" stroke="#000" stroke-width="1.6"/>
<line x1="113.50" y1="2233.41" x2="123.00" y2="2233.41" stroke="#000" stroke-width="1.8"/>
<text transform="translate(71.59,2243.41) scale(1,1.03)" font-size="31.5">10</text>
<line x1="118.30" y1="2196.06" x2="123.00" y2="2196.06" stroke="#000" stroke-width="1.6"/>
<line x1="113.50" y1="2158.72" x2="123.00" y2="2158.72" stroke="#000" stroke-width="1.8"/>
<text transform="translate(71.59,2168.72) scale(1,1.03)" font-size="31.5">20</text>
<line x1="118.30" y1="2121.37" x2="123.00" y2="2121.37" stroke="#000" stroke-width="1.6"/>
<line x1="113.50" y1="2084.02" x2="123.00" y2="2084.02" stroke="#000" stroke-width="1.8"/>
<text transform="translate(71.59,2094.02) scale(1,1.03)" font-size="31.5">30</text>
<line x1="118.30" y1="2046.68" x2="123.00" y2="2046.68" stroke="#000" stroke-width="1.6"/>
<line x1="113.50" y1="2009.33" x2="123.00" y2="2009.33" stroke="#000" stroke-width="1.8"/>
<text transform="translate(71.59,2019.33) scale(1,1.03)" font-size="31.5">40</text>
<line x1="118.30" y1="1971.98" x2="123.00" y2="1971.98" stroke="#000" stroke-width="1.6"/>
<line x1="113.50" y1="1934.64" x2="123.00" y2="1934.64" stroke="#000" stroke-width="1.8"/>
<text transform="translate(71.59,1944.64) scale(1,1.03)" font-size="31.5">50</text>
<line x1="118.30" y1="1897.29" x2="123.00" y2="1897.29" stroke="#000" stroke-width="1.6"/>
<line x1="113.50" y1="1859.95" x2="123.00" y2="1859.95" stroke="#000" stroke-width="1.8"/>
<text transform="translate(71.59,1869.95) scale(1,1.03)" font-size="31.5">60</text>
<line x1="118.30" y1="1822.60" x2="123.00" y2="1822.60" stroke="#000" stroke-width="1.6"/>
<rect x="641.1" y="1822.6" width="156.89999999999998" height="66.30000000000018" fill="#fff" stroke="#000" stroke-width="1.3"/>
<rect x="644.6" y="1826.80" width="54.9" height="26.80" fill="#00a0ff" stroke="#000" stroke-width="1.8"/>
<rect x="644.6" y="1858.60" width="54.9" height="26.10" fill="#b0ffb0" stroke="#000" stroke-width="1.8"/>
<text transform="translate(707.77,1848.00) scale(1,1.01)" font-size="25.0">Autumn</text>
<text transform="translate(707.77,1878.90) scale(1,1.01)" font-size="25.0">Spring</text>
<rect x="123.00" y="1822.60" width="675.00" height="485.50" fill="none" stroke="#000" stroke-width="2.3"/>
<rect x="123.00" y="2308.10" width="675.00" height="47.90" fill="none" stroke="#000" stroke-width="2"/>
<line x1="347.50" y1="2308.10" x2="347.50" y2="2356.00" stroke="#000" stroke-width="1.7"/>
<line x1="572.50" y1="2308.10" x2="572.50" y2="2356.00" stroke="#000" stroke-width="1.7"/>
<text transform="translate(133.62,2342.10) scale(1,1.01)" font-size="30.99">P. dominula AT</text>
<text transform="translate(364.57,2342.10) scale(1,1.01)" font-size="30.37">P. dominula IT</text>
<text transform="translate(599.56,2342.10) scale(1,1.01)" font-size="30.56">P. gallicus IT</text>
<text transform="translate(60.00,2334.06) rotate(-90) scale(1,1.05)" font-size="32.2">Energy content (KJ/g Structure mass)</text>
<text transform="translate(122.51,1816.00) scale(1,1.06)" font-size="42.0" font-weight="bold">D</text>
<text transform="translate(174.97,1927.20) scale(1,1.02)" font-size="30.5">24</text>
<text transform="translate(161.63,2066.00) scale(1,1.02)" font-size="30.5" fill="#1432ff">a</text>
<text transform="translate(220.89,2082.37) scale(1,1.02)" font-size="30.5">***</text>
<text transform="translate(262.54,2107.40) scale(1,1.02)" font-size="30.5">42</text>
<text transform="translate(290.15,2269.00) scale(1,1.02)" font-size="30.5" fill="#009900">A</text>
<text transform="translate(379.32,2006.20) scale(1,1.02)" font-size="30.5" fill="#1432ff">b</text>
<text transform="translate(407.13,2003.80) scale(1,1.02)" font-size="30.5">9</text>
<text transform="translate(445.09,2041.77) scale(1,1.02)" font-size="30.5">***</text>
<text transform="translate(487.30,2154.00) scale(1,1.02)" font-size="30.5">17</text>
<text transform="translate(520.95,2265.70) scale(1,1.02)" font-size="30.5" fill="#009900">A</text>
<text transform="translate(622.77,2096.00) scale(1,1.02)" font-size="30.5">22</text>
<text transform="translate(605.13,2118.10) scale(1,1.02)" font-size="30.5" fill="#1432ff">c</text>
<text transform="translate(670.39,2132.07) scale(1,1.02)" font-size="30.5">***</text>
<text transform="translate(712.58,2207.90) scale(1,1.02)" font-size="30.5">20</text>
<text transform="translate(746.96,2295.40) scale(1,1.02)" font-size="30.5" fill="#009900">B</text>
<text transform="translate(124.38,2302.80) scale(1,1.02)" font-size="30.5">Δ</text>
<text transform="translate(143.71,2302.80) scale(1,1.07)" font-size="32.21" font-weight="bold">KJ/g: 11.212</text>
<line x1="124.80" y1="2308.30" x2="164.80" y2="2308.30" stroke="#000" stroke-width="1.6"/>
<text transform="translate(331.04,2290.53)" font-size="22.5">X</text>
<text transform="translate(433.40,2302.80) scale(1,1.07)" font-size="32.66" font-weight="bold">18.431</text>
<text transform="translate(531.54,2290.33)" font-size="22.5">X</text>
<text transform="translate(615.70,2302.50) scale(1,1.07)" font-size="31.38" font-weight="bold">9.924</text>
<text transform="translate(695.64,2290.33)" font-size="22.5">Y</text>
</svg>
</body></html>
